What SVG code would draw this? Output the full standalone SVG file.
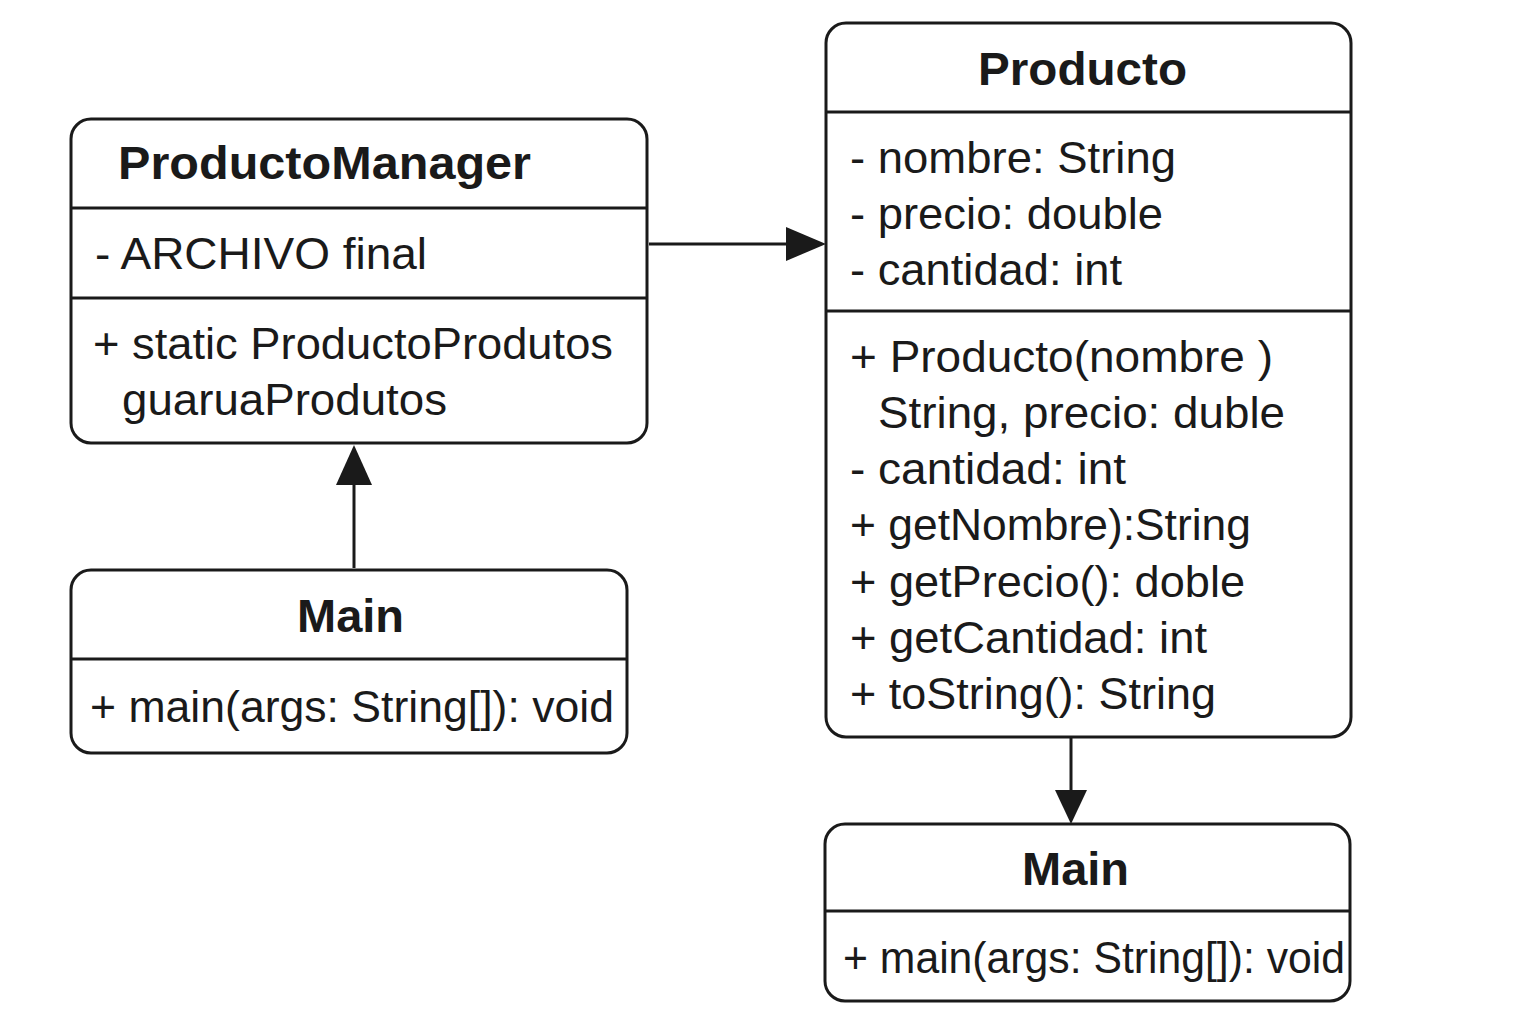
<svg xmlns="http://www.w3.org/2000/svg" width="1536" height="1024" viewBox="0 0 1536 1024">
<style>
.box{fill:#fff;stroke:#1a1a1a;stroke-width:3}
.div{stroke:#1a1a1a;stroke-width:3}
.t{font-family:"Liberation Sans",Arial,sans-serif;font-size:44px;fill:#1a1a1a}
.h{font-family:"Liberation Sans",Arial,sans-serif;font-size:46px;font-weight:bold;fill:#1a1a1a}
.c{stroke:#1a1a1a;stroke-width:3;fill:none}
.ah{fill:#1a1a1a}
</style>
<rect width="1536" height="1024" fill="#fff"/>
<g id="connectors">
<line class="c" x1="649" y1="244" x2="790" y2="244"/>
<polygon class="ah" points="826,244 786,227 786,261"/>
<line class="c" x1="354" y1="568" x2="354" y2="480"/>
<polygon class="ah" points="354,445 336,485 372,485"/>
<line class="c" x1="1071" y1="738" x2="1071" y2="795"/>
<polygon class="ah" points="1071,824 1055,790 1087,790"/>
</g>
<g id="ProductoManager">
<rect class="box" x="71" y="119" width="576" height="324" rx="20"/>
<line class="div" x1="71" y1="208" x2="647" y2="208"/>
<line class="div" x1="71" y1="298" x2="647" y2="298"/>
<text class="h" x="118" y="179" textLength="413" lengthAdjust="spacingAndGlyphs">ProductoManager</text>
<text class="t" x="95" y="269" textLength="332" lengthAdjust="spacingAndGlyphs">- ARCHIVO final</text>
<text class="t" x="93" y="359" textLength="520" lengthAdjust="spacingAndGlyphs">+ static ProductoProdutos</text>
<text class="t" x="122" y="415" textLength="325" lengthAdjust="spacingAndGlyphs">guaruaProdutos</text>
</g>
<g id="MainLeft">
<rect class="box" x="71" y="570" width="556" height="183" rx="20"/>
<line class="div" x1="71" y1="659" x2="627" y2="659"/>
<text class="h" x="297" y="632" textLength="107" lengthAdjust="spacingAndGlyphs">Main</text>
<text class="t" x="90" y="722" textLength="524" lengthAdjust="spacingAndGlyphs">+ main(args: String[]): void</text>
</g>
<g id="Producto">
<rect class="box" x="826" y="23" width="525" height="714" rx="20"/>
<line class="div" x1="826" y1="112" x2="1351" y2="112"/>
<line class="div" x1="826" y1="311" x2="1351" y2="311"/>
<text class="h" x="978" y="85" textLength="209" lengthAdjust="spacingAndGlyphs">Producto</text>
<text class="t" x="850" y="173" textLength="326" lengthAdjust="spacingAndGlyphs">- nombre: String</text>
<text class="t" x="850" y="229" textLength="313" lengthAdjust="spacingAndGlyphs">- precio: double</text>
<text class="t" x="850" y="285" textLength="272" lengthAdjust="spacingAndGlyphs">- cantidad: int</text>
<text class="t" x="850" y="372" textLength="423" lengthAdjust="spacingAndGlyphs">+ Producto(nombre )</text>
<text class="t" x="878" y="428" textLength="407" lengthAdjust="spacingAndGlyphs">String, precio: duble</text>
<text class="t" x="850" y="484" textLength="276" lengthAdjust="spacingAndGlyphs">- cantidad: int</text>
<text class="t" x="850" y="540" textLength="401" lengthAdjust="spacingAndGlyphs">+ getNombre):String</text>
<text class="t" x="850" y="597" textLength="395" lengthAdjust="spacingAndGlyphs">+ getPrecio(): doble</text>
<text class="t" x="850" y="653" textLength="357" lengthAdjust="spacingAndGlyphs">+ getCantidad: int</text>
<text class="t" x="850" y="709" textLength="366" lengthAdjust="spacingAndGlyphs">+ toString(): String</text>
</g>
<g id="MainRight">
<rect class="box" x="825" y="824" width="525" height="177" rx="20"/>
<line class="div" x1="825" y1="911" x2="1350" y2="911"/>
<text class="h" x="1022" y="885" textLength="107" lengthAdjust="spacingAndGlyphs">Main</text>
<text class="t" x="843" y="973" textLength="502" lengthAdjust="spacingAndGlyphs">+ main(args: String[]): void</text>
</g>
</svg>
